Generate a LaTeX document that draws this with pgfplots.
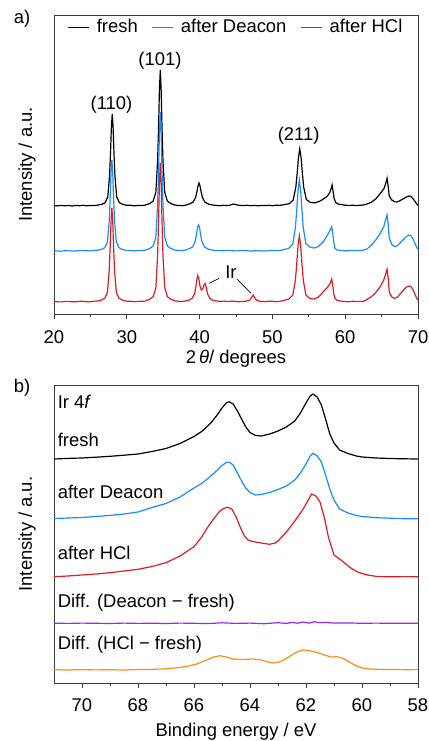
\documentclass[border=0pt]{standalone}
\usepackage{pgfplots}
\pgfplotsset{compat=1.18}
\usepackage{fontspec}
\setmainfont{Liberation Sans}
\definecolor{cblue}{RGB}{24,140,255}
\definecolor{cred}{RGB}{222,28,36}
\definecolor{cpurple}{RGB}{150,40,235}
\definecolor{corange}{RGB}{255,140,20}
\definecolor{cframe}{RGB}{60,60,60}
\pgfplotsset{
  myaxis/.style={
    scale only axis, width=364bp,
    axis line style={line width=0.8pt, cframe},
    every tick/.style={line width=0.8pt, cframe},
    tick align=outside, xtick pos=bottom, ytick=\empty,
    major tick length=5bp, minor tick length=3bp,
    /pgf/number format/assume math mode=true,
    ylabel={Intensity / a.u.},
    ylabel style={at={(axis description cs:-0.074,0.5)}, anchor=center},
    ymin=0,
  }
}
\begin{document}
\fontsize{18.5}{22}\selectfont
\begin{tikzpicture}
\path[use as bounding box] (-54bp,-427bp) rectangle (375bp,314bp);
\begin{axis}[myaxis, height=299bp, at={(0,0)}, anchor=south west,
  xmin=20, xmax=70, ymax=299, xtick={20,30,...,70}, minor x tick num=1,
  xticklabel style={yshift=-5bp},
  xlabel={2\,{\itshape θ}/ degrees},
  xlabel style={at={(axis description cs:0.5,0)}, anchor=center, yshift=-44.5bp},
  legend style={draw=none, fill=none, at={(0.5,1)}, anchor=north, legend columns=3,
    /tikz/every odd column/.append style={column sep=5bp},
    /tikz/every even column/.append style={column sep=12bp}},
  legend image code/.code={\draw[#1] (0bp,0bp) -- (21bp,0bp);},
]
\addplot[black, line width=1.2pt] coordinates {(20,108.4)(20.5,108.1)(21,108.6)(21.5,108.2)(22,108.5)(22.5,108.0)(23,108.6)(23.5,108.3)(24,108.7)(24.5,108.2)(25,108.6)(25.5,108.4)(26,108.9)(26.54,109.6)(27.02,111.3)(27.39,117.2)(27.63,138.4)(27.76,160.4)(27.88,186.2)(28.0,200)(28.12,186.2)(28.24,160.4)(28.37,138.4)(28.61,117.2)(28.98,111.3)(29.46,109.6)(30,108.7)(30.5,108.7)(31,108.2)(31.5,108.5)(32,108.4)(32.5,108.8)(33.14,110.4)(33.62,112.9)(33.99,121.6)(34.23,152.9)(34.36,185.5)(34.48,223.6)(34.6,244)(34.72,223.6)(34.84,185.5)(34.97,152.9)(35.21,121.6)(35.58,112.9)(36.06,110.4)(36.6,109.0)(37,108.6)(37.5,108.3)(38,108.7)(38.6,110.0)(39.1,111.8)(39.45,116.5)(39.62,121.8)(39.78,128)(39.92,131)(40.06,128)(40.22,121.8)(40.39,116.5)(40.74,111.8)(41.25,109.8)(41.8,108.9)(42.3,108.6)(42.8,108.3)(43.3,108.7)(43.8,108.4)(44.2,108.9)(44.45,109.5)(44.7,110.0)(45.0,109.3)(45.4,108.7)(46,108.4)(46.5,108.7)(47,108.3)(47.5,108.6)(48,108.2)(48.5,108.6)(49,108.4)(49.5,108.7)(50,108.3)(50.5,108.8)(51,108.6)(51.6,109.3)(52.32,110.3)(52.86,114)(53.22,126.8)(53.4,140.5)(53.58,156.5)(53.76,165)(53.94,156.5)(54.12,140.5)(54.3,126.8)(54.66,114.5)(55.2,111.5)(55.9,111.2)(56.5,112.8)(57,115)(57.5,117.5)(57.85,121)(58.05,125)(58.2,129)(58.35,122)(58.5,115)(58.7,111.5)(59,110)(59.6,109.3)(60,108.8)(60.5,108.5)(61,108.8)(61.5,108.4)(62,108.7)(62.5,109)(63,110)(63.6,111.8)(64.2,115)(64.8,120.5)(65.3,125)(65.55,130)(65.75,135.7)(65.9,128)(66.05,118)(66.4,114)(66.8,112.3)(67.1,112)(67.5,113.2)(68,115.3)(68.4,117)(68.75,118)(69,117.6)(69.3,115.5)(69.6,112.5)(69.9,109.3)(70,108.6)};
\addlegendentry{fresh}
\addplot[cblue, line width=1.2pt] coordinates {(20,63.3)(20.5,63.0)(21,62.8)(21.5,63.3)(22,63.4)(22.5,63.0)(23,63.0)(23.5,63.5)(24,63.5)(24.5,63.2)(25,63.1)(25.5,63.6)(26,63.8)(26.49,64.5)(26.97,66.3)(27.34,72.1)(27.58,93)(27.71,114.9)(27.83,140.4)(27.95,154)(28.07,140.4)(28.19,114.9)(28.32,93)(28.56,72.1)(28.93,66.3)(29.41,64.5)(30,63.6)(30.5,63.6)(31,63.1)(31.5,63.4)(32,63.5)(32.5,63.8)(33.14,65.4)(33.62,68)(33.99,76.9)(34.23,108.9)(34.36,142.2)(34.48,181.2)(34.6,202)(34.72,181.2)(34.84,142.2)(34.97,108.9)(35.21,76.9)(35.58,68)(36.06,65.4)(36.6,64.0)(37,63.6)(37.5,63.3)(38,63.9)(38.55,65.2)(39.05,67.1)(39.38,72.6)(39.55,78.6)(39.71,86.6)(39.85,89)(39.99,86.6)(40.15,78.6)(40.32,72.6)(40.67,67.1)(41.2,64.8)(41.7,64)(42.2,63.5)(42.7,63.6)(43.2,63.2)(43.7,63.5)(44.2,63.5)(44.7,63.2)(45.2,63.1)(45.7,63.5)(46.2,63.4)(46.7,63.1)(47.2,63.0)(47.7,63.4)(48.2,63.3)(48.7,63.0)(49.2,63.1)(49.7,63.5)(50.2,63.5)(50.7,63.3)(51.1,63.6)(51.54,64.3)(52.26,65.8)(52.8,70.1)(53.16,86.4)(53.34,103.5)(53.52,123.4)(53.7,134)(53.88,123.4)(54.06,103.5)(54.24,86.4)(54.6,70.5)(55.14,67)(55.7,66)(56.2,67.2)(56.6,69.5)(57,72.3)(57.4,77)(57.7,80.7)(57.95,84)(58.15,87.3)(58.3,80)(58.45,71)(58.6,65.5)(58.9,64)(59.5,63.5)(60,63.2)(60.5,63.3)(61,63.6)(61.5,63.5)(62,63.4)(62.5,63.9)(63,65)(63.6,69)(64.2,74)(64.8,80.7)(65.3,87.3)(65.5,93)(65.75,99)(65.9,90)(66.05,76)(66.4,69.5)(66.8,67.3)(67.2,68.5)(67.6,71.5)(68,74.5)(68.4,77.5)(68.75,79)(69,78.5)(69.3,75.5)(69.6,70)(69.9,65.7)(70,64.8)};
\addlegendentry{after Deacon}
\addplot[cred, line width=1.2pt] coordinates {(20,12.5)(20.5,12.2)(21,12.1)(21.5,12.6)(22,12.6)(22.5,12.2)(23,12.2)(23.5,12.7)(24,12.7)(24.5,12.3)(25,12.3)(25.5,12.8)(26,13.0)(26.49,13.9)(26.97,15.7)(27.34,21.7)(27.58,43.3)(27.71,66)(27.83,92.2)(27.95,106.3)(28.07,92.2)(28.19,66)(28.32,43.3)(28.56,21.7)(28.93,15.7)(29.41,13.9)(30,12.8)(30.5,12.8)(31,12.3)(31.5,12.6)(32,12.7)(32.5,12.9)(33.14,14.7)(33.62,17.3)(33.99,26.2)(34.23,58.2)(34.36,91.5)(34.48,130.5)(34.6,151)(34.72,130.5)(34.84,91.5)(34.97,58.2)(35.21,26.2)(35.58,17.3)(36.06,14.7)(36.6,13.2)(37,12.8)(37.5,12.5)(38,12.9)(38.6,14)(39,16)(39.3,20)(39.5,28)(39.62,34)(39.75,38.5)(39.9,35)(40.05,28)(40.25,24)(40.45,25.5)(40.6,29)(40.75,30.5)(40.9,27)(41.1,20)(41.4,15.5)(41.9,13.5)(42.4,12.9)(42.8,12.6)(43.3,12.9)(43.8,12.5)(44.3,12.8)(44.8,12.8)(45.3,12.3)(45.8,12.4)(46.2,12.7)(46.6,13.2)(46.9,14)(47.15,16.5)(47.35,19)(47.55,16.5)(47.8,14)(48.1,13)(48.5,12.6)(49,12.4)(49.5,12.8)(50,12.7)(50.5,12.3)(51,12.6)(51.54,13.5)(52.26,15)(52.8,18.9)(53.16,33.9)(53.34,49.9)(53.52,68.4)(53.7,78.3)(53.88,68.4)(54.06,49.9)(54.24,33.9)(54.6,19)(55.14,15.5)(55.7,15)(56.2,16.4)(56.6,19)(57,22.3)(57.4,25.5)(57.7,28)(57.95,31)(58.15,35)(58.3,28)(58.45,19.5)(58.6,15.7)(58.9,13.5)(59.5,12.8)(60,12.4)(60.5,12.3)(61,12.7)(61.5,12.6)(62,12.4)(62.5,12.8)(63,14.5)(63.6,17.3)(64.2,21.5)(64.8,27.3)(65.3,34)(65.5,38.5)(65.75,44.7)(65.9,36)(66.05,22)(66.4,17)(66.8,15.7)(67.2,17)(67.6,20.5)(68,24)(68.4,26.8)(68.75,28)(69,27.5)(69.3,24.5)(69.6,19.5)(69.9,14.5)(70,14)};
\addlegendentry{after HCl}
\node[anchor=center] at (axis cs:27.9,209.5) {(110)};
\node[anchor=center] at (axis cs:34.56,253) {(101)};
\node[anchor=center] at (axis cs:53.6,178.5) {(211)};
\node[anchor=base] at (axis cs:44.3,36) {Ir};
\draw[black, line width=0.7pt] (axis cs:42.7,35.7) -- (axis cs:41.33,30.7);
\draw[black, line width=0.7pt] (axis cs:45.18,34.7) -- (axis cs:47.06,20.7);
\end{axis}

\begin{axis}[myaxis, height=298bp, at={(0,-369bp)}, anchor=south west,
  x dir=reverse, xmin=58, xmax=71, ymax=298, xtick={58,60,...,70}, minor xtick={59,61,...,69},
  xticklabel style={yshift=-4bp},
  xlabel={Binding energy / eV},
  xlabel style={at={(axis description cs:0.5,0)}, anchor=center, yshift=-48.5bp},
]
\addplot[black, line width=1.2pt] coordinates {(71.0,224.0)(70.5,224.6)(70.0,225.0)(69.5,225.8)(69.0,226.7)(68.5,227.8)(68.0,229.0)(67.5,231.5)(67.0,234.5)(66.5,239.5)(66.0,246.5)(65.7,252)(65.4,260)(65.2,267)(65.0,275)(64.85,280)(64.75,281.3)(64.6,279)(64.45,272)(64.3,264)(64.15,256)(64.0,250.5)(63.8,247.5)(63.6,247)(63.3,249)(63.0,252)(62.7,256)(62.4,262)(62.2,270)(62.0,280)(61.85,287)(61.75,289)(61.6,286)(61.45,278)(61.3,264)(61.15,249)(61.0,240)(60.8,233)(60.5,229.5)(60.2,227)(60.0,226)(59.5,225)(59.0,224.5)(58.5,224.2)(58.0,224)};
\addplot[cblue, line width=1.2pt] coordinates {(71.0,164.5)(70.5,165.0)(70.0,165.5)(69.5,166.5)(69.0,167.6)(68.5,169)(68.0,171)(67.5,175.5)(67.0,179.5)(66.5,186)(66.0,195)(65.7,200)(65.4,207)(65.2,212)(65.0,217.5)(64.85,220.5)(64.75,221)(64.6,218)(64.45,210)(64.3,202)(64.15,195)(64.0,190.5)(63.8,188)(63.6,188.5)(63.3,190.5)(63.0,193.5)(62.7,197)(62.4,203)(62.2,210)(62.0,219)(61.85,227)(61.75,229.7)(61.6,227)(61.45,221)(61.3,208)(61.15,194)(61.0,183)(60.8,174)(60.5,170)(60.2,167.5)(60.0,166.5)(59.5,165.3)(59.0,164.8)(58.5,164.3)(58.0,164.2)};
\addplot[cred, line width=1.2pt] coordinates {(71.0,106.3)(70.5,107)(70.0,108)(69.5,109)(69.0,110.3)(68.5,112)(68.0,113.7)(67.5,116.5)(67.0,120.3)(66.5,127)(66.0,136.3)(65.75,145)(65.5,156.3)(65.3,164)(65.1,171.3)(64.95,174.5)(64.8,175.7)(64.65,174)(64.5,166.3)(64.35,156)(64.2,147)(64.07,143)(63.9,141.5)(63.6,140)(63.3,138.7)(63.1,140)(63.0,142)(62.7,151)(62.4,162)(62.1,174)(61.9,184)(61.8,189)(61.65,187)(61.5,181)(61.35,166)(61.2,146)(61.0,128)(60.8,124)(60.6,119.5)(60.4,115)(60.2,111.5)(60.0,109.5)(59.8,108)(59.46,106.5)(59.0,106.2)(58.5,106.4)(58.0,106.3)};
\addplot[cpurple, line width=1.2pt] coordinates {(71,59.8)(70.5,59.6)(70,59.9)(69.5,59.7)(69,59.5)(68.5,59.9)(68,59.6)(67.5,59.8)(67,59.5)(66.5,59.9)(66,59.7)(65.5,59.4)(65,60.2)(64.5,59.6)(64,59.9)(63.5,59.3)(63,60.3)(62.7,59.6)(62.5,60.6)(62.3,59.8)(62.1,61.0)(61.9,59.9)(61.7,61.2)(61.5,60.3)(61.3,60.6)(61,59.9)(60.5,60.1)(60,59.7)(59.5,59.9)(59,59.7)(58.5,59.8)(58,59.7)};
\addplot[corange, line width=1.2pt] coordinates {(71,13.3)(70.5,13.0)(70,13.4)(69.5,13.1)(69,13.3)(68.5,13.0)(68,13.5)(67.5,13.6)(67,14.2)(66.5,15.5)(66.2,17)(65.9,19)(65.6,22.5)(65.3,26)(65.07,27.3)(64.85,26)(64.6,24)(64.3,23.5)(63.9,24)(63.6,23)(63.35,21)(63.17,20)(62.95,21)(62.7,24.5)(62.45,29)(62.25,32)(62.1,33)(61.9,32.5)(61.6,30.5)(61.35,28)(61.1,26)(60.9,26.3)(60.7,25)(60.45,21)(60.2,17)(59.98,15)(59.7,14)(59.3,13.6)(58.8,13.5)(58.4,13.3)(58,13.4)};
\node[anchor=base west, inner sep=0pt] at (axis cs:70.87,274) {Ir 4{\itshape f}};
\node[anchor=base west, inner sep=0pt] at (axis cs:70.87,236.3) {fresh};
\node[anchor=base west, inner sep=0pt] at (axis cs:70.87,184.7) {after Deacon};
\node[anchor=base west, inner sep=0pt] at (axis cs:70.87,123.7) {after HCl};
\node[anchor=west, inner sep=0pt] at (axis cs:70.87,80.5) {Diff. (Deacon − fresh)};
\node[anchor=west, inner sep=0pt] at (axis cs:70.87,38) {Diff. (HCl − fresh)};
\end{axis}
\node[anchor=center] at (-32bp,295.5bp) {a)};
\node[anchor=center] at (-32bp,-73.5bp) {b)};
\end{tikzpicture}
\end{document}
